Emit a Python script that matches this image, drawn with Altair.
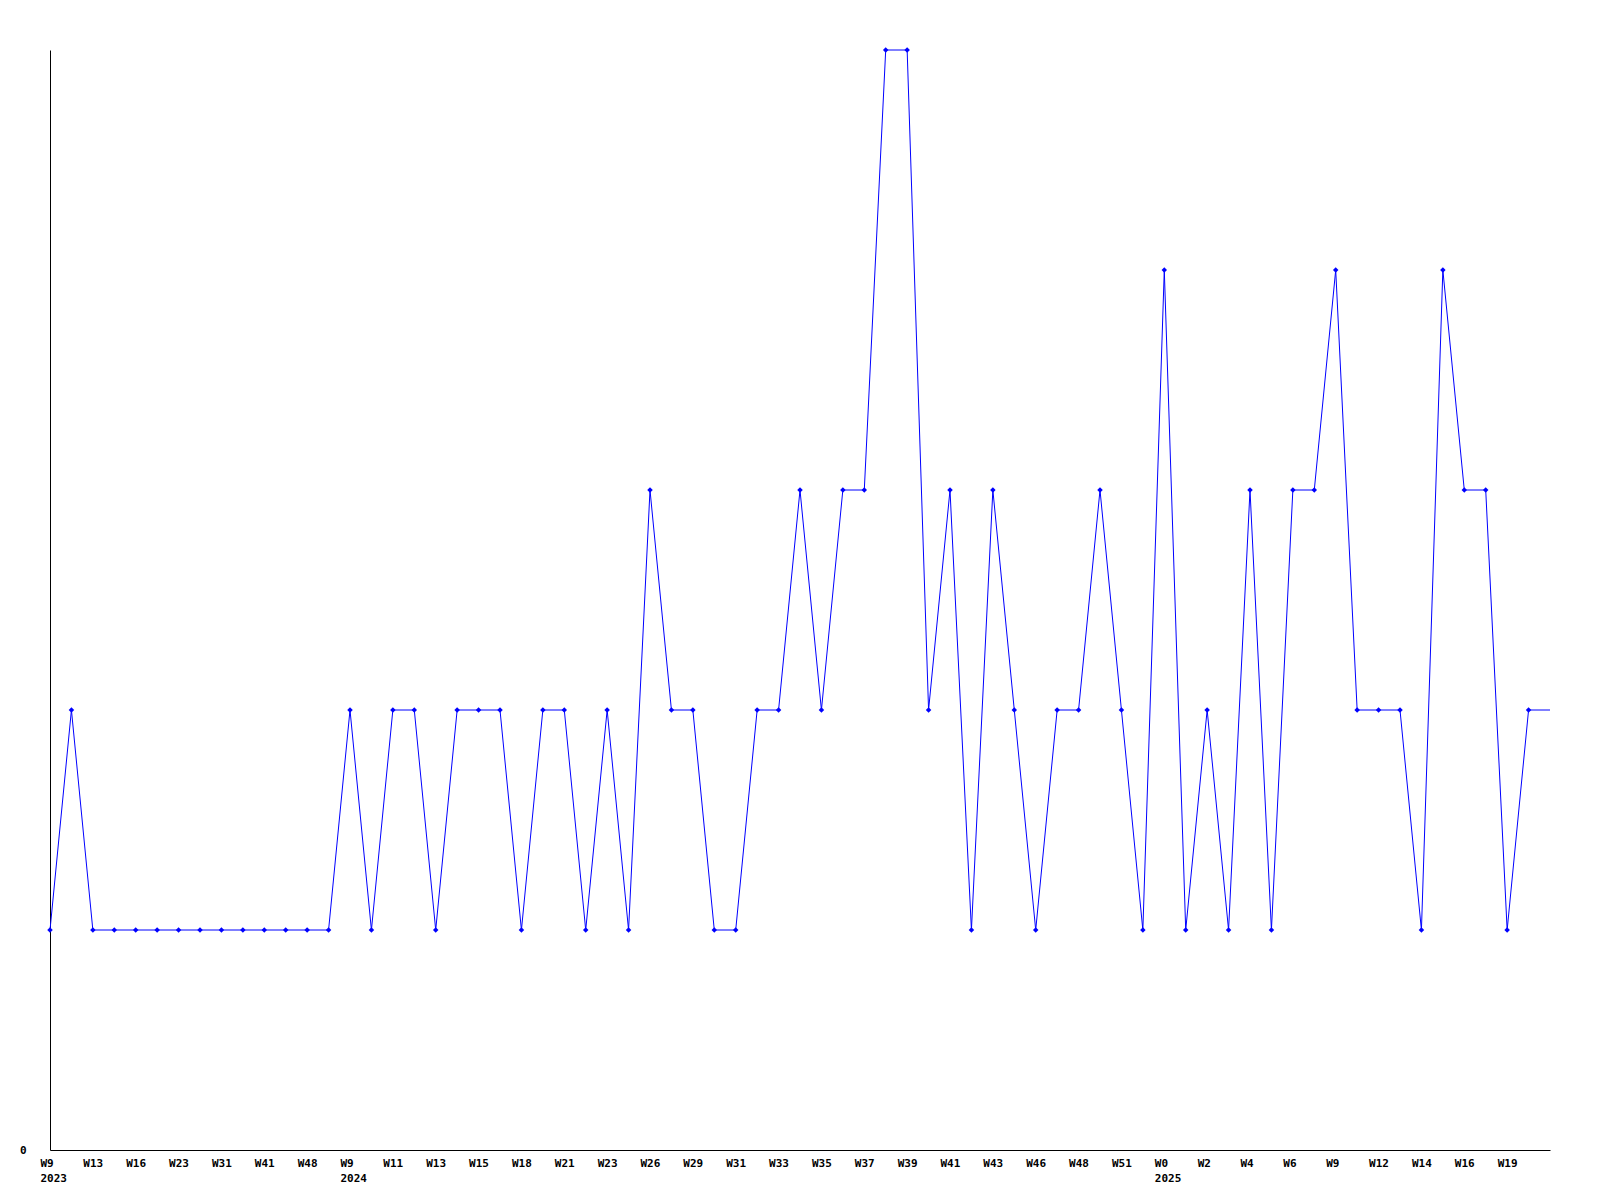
import json
import altair as alt
import pandas as pd

# weekly counts, one per week point (index 0..70)
values = [1, 2, 1, 1, 1, 1, 1, 1, 1, 1, 1, 1, 1, 1, 2, 1, 2, 2, 1, 2,
          2, 2, 1, 2, 2, 1, 2, 1, 3, 2, 2, 1, 1, 2, 2, 3, 2, 3, 3, 5,
          5, 2, 3, 1, 3, 2, 1, 2, 2, 3, 2, 1, 4, 1, 2, 1, 3, 1, 3, 3,
          4, 2, 2, 2, 1, 4, 3, 3, 1, 2, 2]

# labels shown on every other point
tick_labels = ["W9", "W13", "W16", "W23", "W31", "W41", "W48", "W9", "W11", "W13",
               "W15", "W18", "W21", "W23", "W26", "W29", "W31", "W33", "W35", "W37",
               "W39", "W41", "W43", "W46", "W48", "W51", "W0", "W2", "W4", "W6",
               "W9", "W12", "W14", "W16", "W19"]
# year shown under the first label of each year (by label position)
year_labels = {0: "2023", 7: "2024", 26: "2025"}

n = len(values)
df = pd.DataFrame({"i": list(range(n)), "v": values})

label_arr = []
for k, lab in enumerate(tick_labels):
    if k in year_labels:
        label_arr.append([lab, year_labels[k]])
    else:
        label_arr.append(lab)
tick_vals = [2 * k for k in range(len(tick_labels))]
label_expr = json.dumps(label_arr) + "[datum.value / 2]"

FONT = "DejaVu Sans Mono"

x = alt.X("i:Q",
          scale=alt.Scale(domain=[0, n - 1], nice=False, zero=False),
          axis=alt.Axis(values=tick_vals, labelExpr=label_expr, ticks=False, grid=False,
                        title=None, labelAlign="left", labelOffset=-10, labelPadding=7,
                        labelBaseline="top", labelLineHeight=15, labelFlush=False,
                        labelOverlap=False, domainColor="black", domainWidth=1,
                        labelFont=FONT, labelFontSize=11, labelFontWeight="bold",
                        labelColor="black"))
y = alt.Y("v:Q",
          scale=alt.Scale(domain=[0, 5], nice=False, zero=True),
          axis=alt.Axis(values=[0], ticks=False, grid=False, title=None,
                        labelPadding=24, domainColor="black", domainWidth=1,
                        labelFont=FONT, labelFontSize=11, labelFontWeight="bold",
                        labelColor="black"))

line = alt.Chart(df).mark_line(color="#0000FF", strokeWidth=1).encode(x=x, y=y)
pts = alt.Chart(df).transform_filter(alt.datum.i < n - 1).mark_point(
    shape="diamond", filled=True, size=30, color="#0000FF", opacity=1
).encode(x=x, y=y)

chart = alt.layer(line, pts).properties(
    width=1500, height=1100,
    autosize=alt.AutoSizeParams(type="none"),
    padding={"left": 42, "top": 42, "right": 30, "bottom": 40},
    background="white",
).configure_view(stroke=None)

chart.save("out.html", embed_options={"renderer": "svg", "actions": False})
